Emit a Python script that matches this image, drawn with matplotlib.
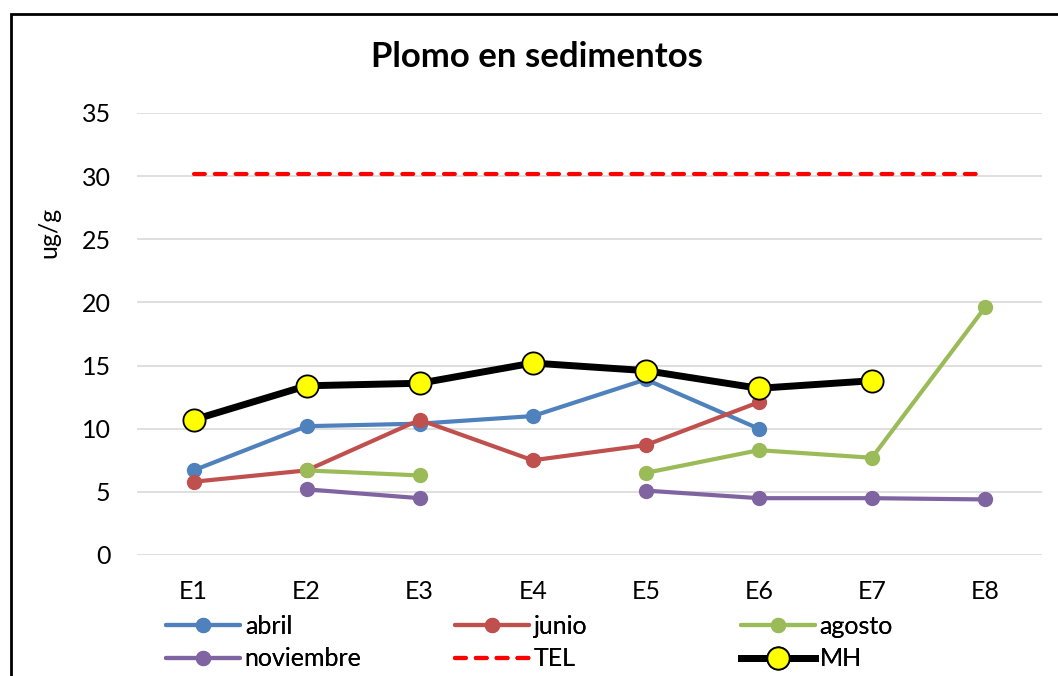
import numpy as np
import matplotlib
matplotlib.use("Agg")
import matplotlib.pyplot as plt
from matplotlib.patches import Rectangle

categories = ["E1", "E2", "E3", "E4", "E5", "E6", "E7", "E8"]
abril = [6.7, 10.2, 10.4, 11.0, 13.9, 10.0, np.nan, np.nan]
junio = [5.8, 6.7, 10.7, 7.5, 8.7, 12.1, np.nan, np.nan]
agosto = [np.nan, 6.7, 6.3, np.nan, 6.5, 8.3, 7.7, 19.6]
noviembre = [np.nan, 5.2, 4.5, np.nan, 5.1, 4.5, 4.5, 4.4]
tel = [30.2] * 8
mh = [10.7, 13.4, 13.6, 15.2, 14.6, 13.2, 13.8, np.nan]
yticks = [0, 5, 10, 15, 20, 25, 30, 35]

plt.rcParams['font.family'] = ['Lato', 'DejaVu Sans']

W, H = 1058, 676
fig = plt.figure(figsize=(W / 100, H / 100), dpi=100)
ax = fig.add_axes([137 / W, 1 - 555 / H, (1041.5 - 137) / W, (555 - 113) / H])

x = np.arange(1, len(categories) + 1)
h_abril, = ax.plot(x, abril, color="#4F81BD", lw=3, marker="o", ms=10, label="abril", solid_capstyle="round")
h_junio, = ax.plot(x, junio, color="#C0504D", lw=3, marker="o", ms=10, label="junio", solid_capstyle="round")
h_agosto, = ax.plot(x, agosto, color="#9BBB59", lw=3, marker="o", ms=10, label="agosto", solid_capstyle="round")
h_nov, = ax.plot(x, noviembre, color="#8064A2", lw=3, marker="o", ms=10, label="noviembre", solid_capstyle="round")
h_tel, = ax.plot(x, tel, color="#FF0000", lw=3, label="TEL", dash_capstyle="round")
h_tel.set_dashes((2.6, 2.4))
h_mh, = ax.plot(x, mh, color="black", lw=5, marker="o", ms=16, markerfacecolor="#FFFF00",
                markeredgecolor="black", markeredgewidth=1.3, label="MH", zorder=5)

ax.set_xlim(0.5, 8.5)
ax.set_ylim(0, 35)
ax.set_yticks(yticks)
ax.set_xticks(x)
ax.set_xticklabels(categories)
ax.grid(axis="y", color="#D9D9D9", lw=1.2)
ax.set_axisbelow(True)
for s in ax.spines.values():
    s.set_visible(False)
ax.tick_params(axis="both", length=0, labelsize=18, colors="black")
ax.tick_params(axis="x", pad=18)
ax.tick_params(axis="y", pad=19)

ax.set_ylabel("ug/g", fontsize=18)
ax.yaxis.set_label_coords(-0.085, 0.73)

fig.text(537 / W, 1 - 57 / H, "Plomo en sedimentos", ha="center", va="center",
         fontsize=25, fontweight="bold")

cols = [([h_abril, h_nov], 166), ([h_junio, h_tel], 455), ([h_agosto, h_mh], 741)]
for hs, px in cols:
    lg = fig.legend(handles=hs, loc="upper left", bbox_to_anchor=(px / W, 1 - 615 / H),
                    ncol=1, frameon=False, fontsize=18, handlelength=2.95, handletextpad=0.2,
                    labelspacing=0.38, borderaxespad=0, borderpad=0)
    fig.add_artist(lg)

fig.patches.append(Rectangle((11 / W, -0.1), 1.2, 1 - 14 / H + 0.1, transform=fig.transFigure,
                             fill=False, edgecolor="black", lw=2))

fig.savefig("out.png", dpi=100)
